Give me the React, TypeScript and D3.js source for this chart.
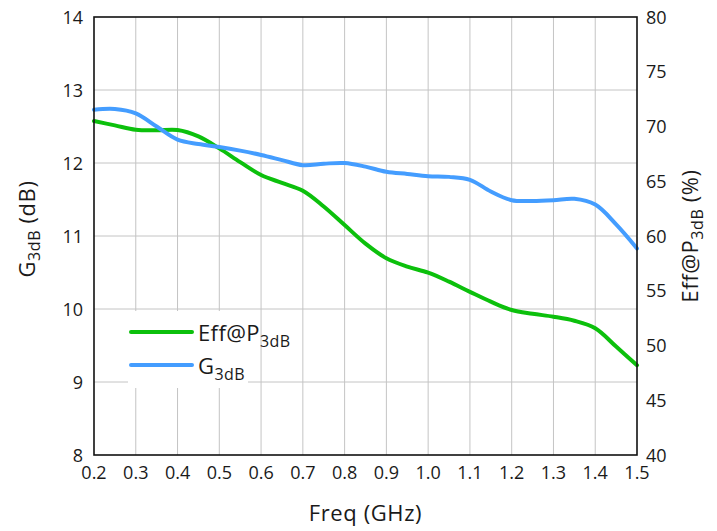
import React from "react";
import * as d3 from "d3";

// Frequency sweep (GHz)
const freq = [
  0.2, 0.25, 0.3, 0.35, 0.4, 0.45, 0.5, 0.55, 0.6, 0.65, 0.7, 0.75, 0.8, 0.85,
  0.9, 0.95, 1.0, 1.05, 1.1, 1.15, 1.2, 1.25, 1.3, 1.35, 1.4, 1.45, 1.5,
];
// Gain at 3 dB compression (dB), left axis
const gain3dB = [
  12.73, 12.74, 12.68, 12.5, 12.32, 12.26, 12.22, 12.17, 12.11, 12.04, 11.97,
  11.99, 12.0, 11.95, 11.88, 11.85, 11.82, 11.81, 11.77, 11.61, 11.49, 11.48,
  11.49, 11.51, 11.43, 11.16, 10.83,
];
// Drain efficiency at P3dB (%), right axis
const eff3dB = [
  70.5, 70.1, 69.7, 69.65, 69.68, 69.1, 68.0, 66.75, 65.57, 64.85, 64.14, 62.7,
  61.0, 59.3, 57.96, 57.2, 56.65, 55.83, 54.9, 54.0, 53.24, 52.9, 52.63, 52.26,
  51.57, 49.9, 48.2,
];
const xTicks = [0.2, 0.3, 0.4, 0.5, 0.6, 0.7, 0.8, 0.9, 1.0, 1.1, 1.2, 1.3, 1.4, 1.5];
const leftTicks = [8, 9, 10, 11, 12, 13, 14];
const rightTicks = [40, 45, 50, 55, 60, 65, 70, 75, 80];

const W = 717;
const H = 531;
const plot = { left: 94, right: 637, top: 17, bottom: 455 };
const FONT = "'Open Sans', 'Noto Sans', sans-serif";
const GREEN = "#0cc00c";
const BLUE = "#449dff";
const INK = "#1a1a1a";

export default function App() {
  const x = d3.scaleLinear().domain([0.2, 1.5]).range([plot.left, plot.right]);
  const yL = d3.scaleLinear().domain([8, 14]).range([plot.bottom, plot.top]);
  const yR = d3.scaleLinear().domain([40, 80]).range([plot.bottom, plot.top]);

  const gainLine = d3
    .line<number>()
    .x((_, i) => x(freq[i]))
    .y((d) => yL(d))
    .curve(d3.curveCatmullRom.alpha(0.5));
  const effLine = d3
    .line<number>()
    .x((_, i) => x(freq[i]))
    .y((d) => yR(d))
    .curve(d3.curveCatmullRom.alpha(0.5));

  const midY = (plot.top + plot.bottom) / 2;
  const midX = (plot.left + plot.right) / 2;

  return (
    <svg
      width={W}
      height={H}
      style={{ position: "absolute", left: 0, top: 0, background: "#fff" }}
      fontFamily={FONT}
    >
      <rect x={0} y={0} width={W} height={H} fill="#fff" />
      {/* grid */}
      <g stroke="#c4c4c4" strokeWidth={1}>
        {xTicks.slice(1, -1).map((t) => (
          <line key={`gx${t}`} x1={x(t)} x2={x(t)} y1={plot.top} y2={plot.bottom} />
        ))}
        {leftTicks.slice(1, -1).map((t) => (
          <line key={`gy${t}`} x1={plot.left} x2={plot.right} y1={yL(t)} y2={yL(t)} />
        ))}
      </g>

      {/* legend backdrop */}
      <rect x={128} y={311} width={120} height={77} fill="#fff" />

      {/* series */}
      <path d={effLine(eff3dB) ?? ""} fill="none" stroke={GREEN} strokeWidth={4} strokeLinecap="round" />
      <path d={gainLine(gain3dB) ?? ""} fill="none" stroke={BLUE} strokeWidth={4} strokeLinecap="round" />

      {/* frame */}
      <rect
        x={plot.left}
        y={plot.top}
        width={plot.right - plot.left}
        height={plot.bottom - plot.top}
        fill="none"
        stroke="#111"
        strokeWidth={1.6}
      />

      {/* bottom ticks */}
      <g fontSize={18} fill={INK} textAnchor="middle">
        {xTicks.map((t) => (
          <text key={`tx${t}`} x={x(t)} y={479}>
            {t.toFixed(1)}
          </text>
        ))}
      </g>
      {/* left ticks */}
      <g fontSize={18} fill={INK} textAnchor="end">
        {leftTicks.map((t) => (
          <text key={`tl${t}`} x={83} y={yL(t) + 6.5}>
            {t}
          </text>
        ))}
      </g>
      {/* right ticks */}
      <g fontSize={18} fill={INK} textAnchor="start">
        {rightTicks.map((t) => (
          <text key={`tr${t}`} x={646} y={yR(t) + 6.5}>
            {t}
          </text>
        ))}
      </g>

      {/* axis titles */}
      <text x={midX} y={521} fontSize={22} letterSpacing={0.6} textAnchor="middle" fill={INK}>
        Freq (GHz)
      </text>
      <text
        transform={`translate(35,${midY - 7}) rotate(-90)`}
        fontSize={22}
        letterSpacing={0.6}
        textAnchor="middle"
        fill={INK}
      >
        G<tspan fontSize={16} dy={5}>3dB</tspan>
        <tspan dy={-5}> (dB)</tspan>
      </text>
      <text
        transform={`translate(698,${midY}) rotate(-90)`}
        fontSize={22}
        letterSpacing={0.6}
        textAnchor="middle"
        fill={INK}
      >
        Eff@P<tspan fontSize={16} dy={5}>3dB</tspan>
        <tspan dy={-5}> (%)</tspan>
      </text>

      {/* legend */}
      <line x1={131} x2={192} y1={332} y2={332} stroke={GREEN} strokeWidth={4} strokeLinecap="round" />
      <line x1={131} x2={192} y1={365} y2={365} stroke={BLUE} strokeWidth={4} strokeLinecap="round" />
      <text x={198} y={341} fontSize={22} letterSpacing={0.4} fill={INK}>
        Eff@P<tspan fontSize={16} dy={6}>3dB</tspan>
      </text>
      <text x={198} y={374} fontSize={22} letterSpacing={0.4} fill={INK}>
        G<tspan fontSize={16} dy={6}>3dB</tspan>
      </text>
    </svg>
  );
}
